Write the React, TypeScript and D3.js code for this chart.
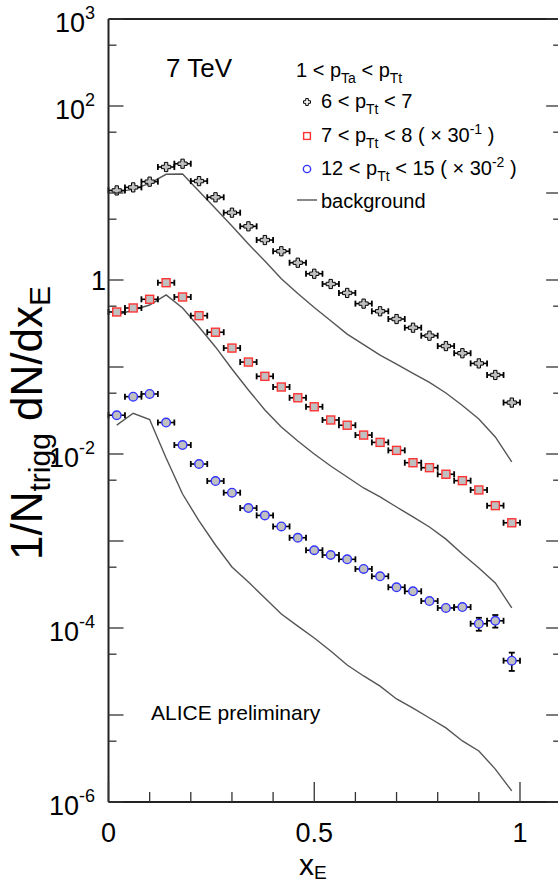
import React from "react";
import * as d3 from "d3";

const W = 558;
const H = 883;
const FONT = "'Liberation Sans', Arial, Helvetica, sans-serif";

// bin centres in x_E
const xE = [0.02, 0.06, 0.10, 0.14, 0.18, 0.22, 0.26, 0.30, 0.34, 0.38, 0.42, 0.46, 0.50,
  0.54, 0.58, 0.62, 0.66, 0.70, 0.74, 0.78, 0.82, 0.86, 0.90, 0.94, 0.98];
const binHalfWidth = 0.02;

// 6 < pTt < 7
const blackData = [10.7, 11.6, 13.5, 19.9, 21.7, 13.7, 8.93, 5.94, 4.14, 2.88, 2.14, 1.58, 1.18,
  0.90, 0.71, 0.535, 0.437, 0.356, 0.283, 0.229, 0.174, 0.144, 0.110, 0.081, 0.039];
const blackErr = [0.1, 0.1, 0.1, 0.15, 0.15, 0.1, 0.07, 0.05, 0.03, 0.02, 0.015, 0.012, 0.009,
  0.007, 0.006, 0.005, 0.004, 0.003, 0.003, 0.002, 0.002, 0.002, 0.002, 0.002, 0.001];
const blackBg = [10.3, 11.0, 12.9, 16.4, 16.5, 10.5, 6.63, 4.18, 2.59, 1.65, 1.035, 0.70, 0.483,
  0.340, 0.239, 0.181, 0.137, 0.108, 0.0847, 0.0664, 0.0503, 0.0361, 0.0252, 0.0157, 0.0081];

// 7 < pTt < 8 (x 30^-1)
const redData = [0.429, 0.477, 0.600, 0.931, 0.638, 0.389, 0.251, 0.165, 0.114, 0.0781, 0.0589,
  0.0443, 0.0349, 0.0246, 0.0214, 0.0165, 0.0136, 0.0110, 0.00794, 0.00696, 0.00585, 0.00494,
  0.00386, 0.00255, 0.00162];
const redErr = [0.004, 0.004, 0.005, 0.008, 0.006, 0.004, 0.003, 0.002, 0.0012, 0.0009, 0.0007,
  0.0005, 0.0004, 0.0003, 0.0003, 0.0002, 0.0002, 0.00015, 0.0001, 0.0001, 0.0001, 0.0001,
  0.00008, 0.00006, 0.00005];
const redBg = [0.396, 0.452, 0.516, 0.673, 0.476, 0.288, 0.170, 0.0949, 0.0544, 0.0321, 0.0204,
  0.0141, 0.0100, 0.00728, 0.00544, 0.00407, 0.00321, 0.00246, 0.00189, 0.00145, 0.00105,
  0.00071, 0.00049, 0.00033, 0.00017];

// 12 < pTt < 15 (x 30^-2)
const blueData = [0.0279, 0.0456, 0.0490, 0.0230, 0.01268, 0.00767, 0.00489, 0.00359, 0.00239,
  0.00197, 0.00147, 0.00109, 0.000783, 0.000690, 0.000616, 0.000477, 0.000393, 0.000294,
  0.000264, 0.000204, 0.000170, 0.000174, 0.000112, 0.000121, 0.0000421];
const blueErr = [0.0004, 0.0006, 0.0006, 0.0004, 0.0002, 0.00012, 0.00008, 0.00006, 0.00004,
  0.00004, 0.00003, 0.00002, 0.000016, 0.000015, 0.000014, 0.000012, 0.000011, 0.000009,
  0.000009, 0.000008, 0.000008, 0.000009, 0.000019, 0.000020, 0.000010];
const blueBg = [0.0215, 0.0294, 0.0249, 0.0090, 0.00347, 0.00170, 0.00090, 0.000502, 0.000338,
  0.000221, 0.000145, 0.000105, 0.0000767, 0.0000544, 0.0000376, 0.0000281, 0.0000215,
  0.0000153, 0.0000120, 0.00000924, 0.0000071, 0.00000503, 0.00000386, 0.00000239, 0.00000134];

const yMajorTicks = [1e-6, 1e-5, 1e-4, 1e-3, 1e-2, 1e-1, 1, 10, 100, 1000];
const yMinorTicks = [5e-6, 5e-5, 5e-4, 5e-3, 5e-2, 5e-1, 5, 50, 500];
const yTickLabels: [number, string, string][] = [
  [1000, "10", "3"], [100, "10", "2"], [1, "1", ""], [1e-2, "10", "-2"], [1e-4, "10", "-4"], [1e-6, "10", "-6"],
];
const xMajorTicks = [0, 0.5, 1];
const xMinorTicks = [0.1, 0.2, 0.3, 0.4, 0.6, 0.7, 0.8, 0.9];
const xTickLabels = ["0", "0.5", "1"];

const margin = { left: 108.5, top: 19, bottom: 802 };
const x = d3.scaleLinear().domain([0, 1.1]).range([margin.left, margin.left + 1.1 * 411.5]);
const y = d3.scaleLog().domain([1e-6, 1e3]).range([margin.bottom, margin.top]);

const GRAY = "#c0c0c0";
const RED = "#ff3333";
const BLUE = "#3333ff";

type Kind = "cross" | "square" | "circle";

function Marker({ cx, cy, kind, fill, size = 1 }: { cx: number; cy: number; kind: Kind; fill?: string; size?: number }) {
  if (kind === "cross") {
    const a = 4.6 * size, b = 1.7 * size;
    const pts = [
      [-b, -a], [b, -a], [b, -b], [a, -b], [a, b], [b, b], [b, a], [-b, a], [-b, b], [-a, b], [-a, -b], [-b, -b],
    ].map(([px, py]) => `${cx + px},${cy + py}`).join(" ");
    return <polygon points={pts} fill={fill ?? GRAY} stroke="#000" strokeWidth={1} />;
  }
  if (kind === "square") {
    const s = 4 * size;
    return <rect x={cx - s} y={cy - s} width={2 * s} height={2 * s} fill={fill ?? GRAY} stroke={RED} strokeWidth={1.4} />;
  }
  return <circle cx={cx} cy={cy} r={4.3 * size} fill={fill ?? GRAY} stroke={BLUE} strokeWidth={1.4} />;
}

function Series({ data, err, kind }: { data: number[]; err: number[]; kind: Kind }) {
  const markerR = kind === "cross" ? 4.6 : 4.3;
  return (
    <g>
      {data.map((v, i) => {
        const cx = x(xE[i]);
        const cy = y(v);
        const x0 = x(xE[i] - binHalfWidth);
        const x1 = x(xE[i] + binHalfWidth);
        const yTop = y(v + err[i]);
        const yBot = y(Math.max(v - err[i], 1e-9));
        const showV = cy - yTop > markerR + 0.5;
        return (
          <g key={i}>
            <line x1={x0} x2={cx - markerR} y1={cy} y2={cy} stroke="#000" strokeWidth={1.6} />
            <line x1={cx + markerR} x2={x1} y1={cy} y2={cy} stroke="#000" strokeWidth={1.6} />
            <line x1={x0} x2={x0} y1={cy - 3} y2={cy + 3} stroke="#000" strokeWidth={1.8} />
            <line x1={x1} x2={x1} y1={cy - 3} y2={cy + 3} stroke="#000" strokeWidth={1.8} />
            {showV && (
              <g>
                <line x1={cx} x2={cx} y1={yTop} y2={cy - markerR} stroke="#000" strokeWidth={1.6} />
                <line x1={cx} x2={cx} y1={cy + markerR} y2={yBot} stroke="#000" strokeWidth={1.6} />
                <line x1={cx - 3} x2={cx + 3} y1={yTop} y2={yTop} stroke="#000" strokeWidth={1.8} />
                <line x1={cx - 3} x2={cx + 3} y1={yBot} y2={yBot} stroke="#000" strokeWidth={1.8} />
              </g>
            )}
            <Marker cx={cx} cy={cy} kind={kind} />
          </g>
        );
      })}
    </g>
  );
}

const bgLine = d3.line<number>().x((_, i) => x(xE[i])).y((d) => y(d));

export default function App() {
  const right = x(1.1);
  return (
    <svg width={W} height={H} style={{ position: "absolute", left: 0, top: 0, background: "#fff" }} fontFamily={FONT}>
      <rect x={0} y={0} width={W} height={H} fill="#fff" />
      {/* background curves */}
      {[blackBg, redBg, blueBg].map((bg, i) => (
        <path key={i} d={bgLine(bg) ?? ""} fill="none" stroke="#555" strokeWidth={1.4} />
      ))}
      <Series data={blackData} err={blackErr} kind="cross" />
      <Series data={redData} err={redErr} kind="square" />
      <Series data={blueData} err={blueErr} kind="circle" />

      {/* frame */}
      <line x1={margin.left} x2={margin.left} y1={margin.top} y2={margin.bottom} stroke="#222" strokeWidth={2} />
      <line x1={margin.left} x2={right} y1={margin.bottom} y2={margin.bottom} stroke="#222" strokeWidth={2} />
      <line x1={margin.left} x2={right} y1={margin.top} y2={margin.top} stroke="#222" strokeWidth={2} />
      <line x1={right} x2={right} y1={margin.top} y2={margin.bottom} stroke="#222" strokeWidth={2} />

      {/* y ticks */}
      {yMajorTicks.map((t) => (
        <g key={"ym" + t}>
          <line x1={margin.left} x2={margin.left + 15} y1={y(t)} y2={y(t)} stroke="#333" strokeWidth={1.3} />
          <line x1={right - 15} x2={right} y1={y(t)} y2={y(t)} stroke="#333" strokeWidth={1.3} />
        </g>
      ))}
      {yMinorTicks.map((t) => (
        <g key={"yn" + t}>
          <line x1={margin.left} x2={margin.left + 8} y1={y(t)} y2={y(t)} stroke="#333" strokeWidth={1.3} />
          <line x1={right - 8} x2={right} y1={y(t)} y2={y(t)} stroke="#333" strokeWidth={1.3} />
        </g>
      ))}
      {/* x ticks */}
      {xMajorTicks.map((t) => (
        <line key={"xm" + t} x1={x(t)} x2={x(t)} y1={margin.bottom} y2={margin.bottom - 20} stroke="#333" strokeWidth={1.3} />
      ))}
      {xMinorTicks.map((t) => (
        <line key={"xn" + t} x1={x(t)} x2={x(t)} y1={margin.bottom} y2={margin.bottom - 10} stroke="#333" strokeWidth={1.3} />
      ))}

      {/* y tick labels */}
      {yTickLabels.map(([v, base, exp]) => (
        <text key={"yl" + v} x={exp ? 95 : 106} y={y(v) + (exp ? 13 : 10)} fontSize={27} textAnchor="end" fill="#000">
          {base}
          {exp && <tspan fontSize={18} dy={-13}>{exp}</tspan>}
        </text>
      ))}

      {/* x tick labels */}
      {xMajorTicks.map((t, i) => (
        <text key={"xl" + t} x={x(t)} y={842} fontSize={27} textAnchor="middle" fill="#000">{xTickLabels[i]}</text>
      ))}

      {/* axis titles */}
      <text x={299} y={875} fontSize={30} fill="#000">
        x<tspan fontSize={19} dy={4}>E</tspan>
      </text>
      <text transform="translate(42,423) rotate(-90)" fontSize={44} textAnchor="middle" fill="#000">
        1/N<tspan fontSize={30} dy={8}>trigg</tspan>
        <tspan dy={-8}> dN/dx</tspan>
        <tspan fontSize={30} dy={8}>E</tspan>
      </text>

      {/* annotations */}
      <text x={166} y={77} fontSize={26} fill="#000">7 TeV</text>
      <text x={151} y={720} fontSize={21} fill="#000">ALICE preliminary</text>

      {/* legend */}
      <g fontSize={20} fill="#000">
        <text x={296} y={77}>
          1 &lt; p<tspan fontSize={14} dy={6}>Ta</tspan><tspan dy={-6}> &lt; p</tspan><tspan fontSize={14} dy={6}>Tt</tspan>
        </text>
        <Marker cx={307} cy={102} kind="cross" fill="#fff" size={0.75} />
        <text x={321} y={108}>
          6 &lt; p<tspan fontSize={14} dy={6}>Tt</tspan><tspan dy={-6}> &lt; 7</tspan>
        </text>
        <Marker cx={307} cy={136} kind="square" fill="#fff" size={0.85} />
        <text x={321} y={142}>
          7 &lt; p<tspan fontSize={14} dy={6}>Tt</tspan><tspan dy={-6}> &lt; 8 ( × 30</tspan><tspan fontSize={14} dy={-8}>-1</tspan><tspan dy={8}> )</tspan>
        </text>
        <Marker cx={307} cy={169} kind="circle" fill="#fff" size={0.85} />
        <text x={321} y={175}>
          12 &lt; p<tspan fontSize={14} dy={6}>Tt</tspan><tspan dy={-6}> &lt; 15 ( × 30</tspan><tspan fontSize={14} dy={-8}>-2</tspan><tspan dy={8}> )</tspan>
        </text>
        <line x1={297} x2={317} y1={200} y2={200} stroke="#555" strokeWidth={1.4} />
        <text x={321} y={208}>background</text>
      </g>
    </svg>
  );
}
